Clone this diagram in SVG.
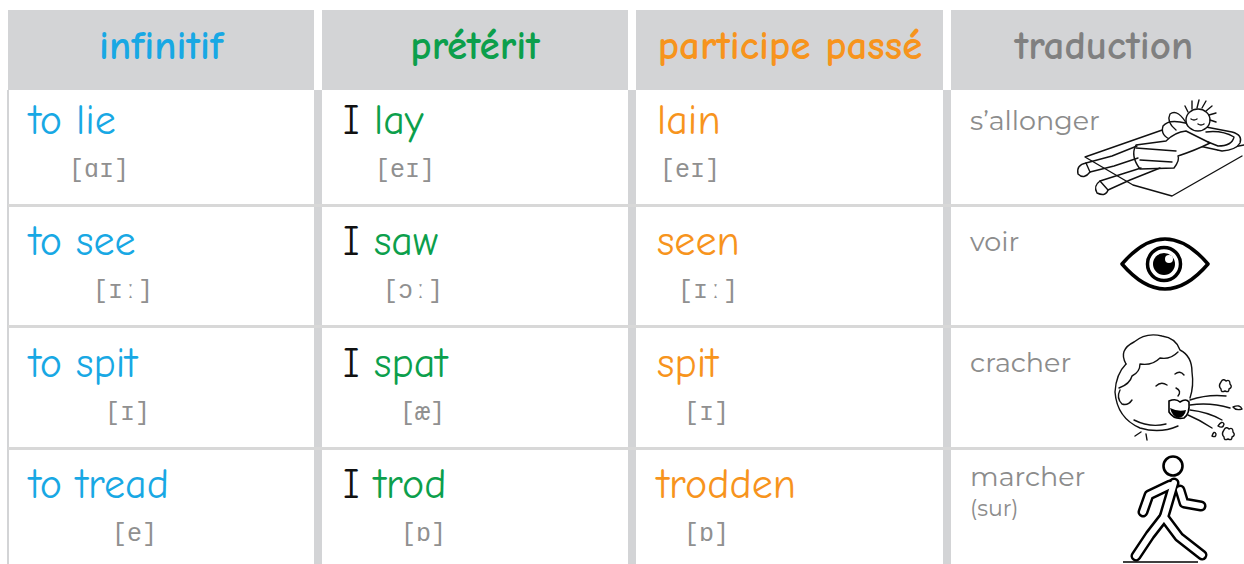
<svg xmlns="http://www.w3.org/2000/svg" width="1244" height="564" viewBox="0 0 1244 564">
<style>
.hd{fill:#d3d4d6}
.vl{fill:#d3d4d6}
.hl{fill:#d8d8d8}
.h{font-family:'Comic Sans MS','Comic Neue','Lato','DejaVu Sans',sans-serif;font-weight:bold;font-size:41px;text-anchor:middle}
.w{font-family:'Comic Sans MS','Comic Neue','Lato','DejaVu Sans',sans-serif;font-size:42px}
.ph{font-family:'Liberation Mono','Courier New',monospace;font-size:25px;fill:#909090}
.tr{font-family:'Montserrat','Open Sans','Noto Sans',sans-serif;font-size:27px;fill:#8c8c8c}
.b{fill:#18a8e4}.g{fill:#0c9f4c}.o{fill:#f7941d}.k{fill:#111}
.ln{fill:none;stroke:#111;stroke-width:1.4;stroke-linecap:round;stroke-linejoin:round}
.ol{fill:none;stroke:#000;stroke-width:11;stroke-linecap:round;stroke-linejoin:round}
.ow{fill:none;stroke:#fff;stroke-width:6;stroke-linecap:round;stroke-linejoin:round}
</style>
<rect width="1244" height="564" fill="#fff"/>
<g id="grid">
<rect class="hd" x="8" y="10" width="306" height="80"/>
<rect class="hd" x="322" y="10" width="306" height="80"/>
<rect class="hd" x="636" y="10" width="307" height="80"/>
<rect class="hd" x="951" y="10" width="293" height="80"/>
<rect class="vl" x="7" y="90" width="2" height="474"/>
<rect class="vl" x="314" y="90" width="8" height="474"/>
<rect class="vl" x="628" y="90" width="8" height="474"/>
<rect class="vl" x="943" y="90" width="8" height="474"/>
<rect class="hl" x="8" y="204" width="1236" height="3"/>
<rect class="hl" x="8" y="325" width="1236" height="3"/>
<rect class="hl" x="8" y="447" width="1236" height="3"/>
</g>
<g id="header">
<text class="h b" x="161" y="59">infinitif</text>
<text class="h g" x="475" y="59">prétérit</text>
<text class="h o" x="790" y="59">participe passé</text>
<text class="h" x="1104" y="59" fill="#808080">traduction</text>
</g>
<g id="row1">
<text class="w b" x="29" y="134">to lie</text>
<text class="ph" x="69" y="177">[ɑɪ]</text>
<text class="w" x="343" y="134"><tspan class="k">I</tspan><tspan class="g" x="374">lay</tspan></text>
<text class="ph" x="375" y="177">[eɪ]</text>
<text class="w o" x="657" y="134">lain</text>
<text class="ph" x="660" y="177">[eɪ]</text>
<text class="tr" x="970" y="130">s’allonger</text>
</g>
<g id="row2">
<text class="w b" x="29" y="255">to see</text>
<text class="ph" x="93" y="298">[ɪː]</text>
<text class="w" x="343" y="255"><tspan class="k">I</tspan><tspan class="g" x="374">saw</tspan></text>
<text class="ph" x="383" y="298">[ɔː]</text>
<text class="w o" x="657" y="255">seen</text>
<text class="ph" x="678" y="298">[ɪː]</text>
<text class="tr" x="970" y="251">voir</text>
</g>
<g id="row3">
<text class="w b" x="29" y="377">to spit</text>
<text class="ph" x="105" y="420">[ɪ]</text>
<text class="w" x="343" y="377"><tspan class="k">I</tspan><tspan class="g" x="374">spat</tspan></text>
<text class="ph" x="400" y="420">[æ]</text>
<text class="w o" x="657" y="377">spit</text>
<text class="ph" x="684" y="420">[ɪ]</text>
<text class="tr" x="970" y="372">cracher</text>
</g>
<g id="row4">
<text class="w b" x="29" y="498">to tread</text>
<text class="ph" x="112" y="541">[e]</text>
<text class="w" x="343" y="498"><tspan class="k">I</tspan><tspan class="g" x="374">trod</tspan></text>
<text class="ph" x="401" y="541">[ɒ]</text>
<text class="w o" x="657" y="498">trodden</text>
<text class="ph" x="684" y="541">[ɒ]</text>
<text class="tr" x="970" y="486">marcher</text>
<text class="tr" x="970" y="516" style="font-size:22px">(sur)</text>
</g>
<g id="icon-lying">
<path class="ln" d="M1133 185 L1085 157 L1168 128 M1133 185 L1172 196 L1242 156 M1218 150 L1244 145"/>
<path d="M1163 126 Q1168 120 1180 122 L1232 132 Q1243 135 1240 143 Q1236 150 1222 151 L1172 140 Q1160 136 1163 126 Z" fill="#fff" stroke="#111" stroke-width="1.4" stroke-linejoin="round"/>
<path d="M1186 131 Q1175 132 1166 141 L1136 145 Q1130 156 1140 169 L1174 168 Q1180 160 1178 156 Q1196 150 1210 143 Z" fill="#fff" stroke="#111" stroke-width="1.4" stroke-linejoin="round"/>
<path class="ln" d="M1136 148 L1176 151 M1140 160 L1172 162"/>
<path class="ln" d="M1188 126 Q1178 108 1170 114 Q1166 122 1176 130 M1206 132 Q1222 130 1234 137 Q1232 146 1218 146 L1208 142"/>
<ellipse cx="1198" cy="120" rx="12" ry="11" fill="#fff" stroke="#111" stroke-width="1.4"/>
<path class="ln" d="M1192 109 L1192 101 M1197 108 L1199 100 M1202 108 L1206 101 M1206 111 L1212 106 M1209 115 L1216 113 M1210 120 L1216 122 M1188 112 L1185 106"/>
<path class="ln" d="M1191 119 Q1194 121 1197 119 M1198 124 Q1201 126 1204 124"/>
<path class="ln" d="M1137 146 L1112 156 L1086 163 M1138 158 L1114 166 L1090 172 M1141 168 L1122 174 L1100 181 M1160 168 L1130 180 L1108 190"/>
<path d="M1086 163 Q1076 165 1078 174 Q1084 180 1090 172 Z M1100 181 Q1093 186 1097 193 Q1106 197 1108 190 Z" fill="#fff" stroke="#111" stroke-width="1.4" stroke-linejoin="round"/>
</g>
<g id="icon-eye">
<path d="M1122 264 Q1165 214 1208 264 Q1165 314 1122 264 Z" fill="none" stroke="#000" stroke-width="3.5" stroke-linejoin="round"/>
<circle cx="1164" cy="264" r="16.5" fill="none" stroke="#000" stroke-width="3.5"/>
<circle cx="1164" cy="264" r="11" fill="#000"/>
<circle cx="1169" cy="259" r="4" fill="#fff"/>
</g>
<g id="icon-spit">
<path class="ln" d="M1126 364 Q1116 374 1115 392 Q1117 418 1140 428 Q1160 434 1178 426"/>
<path class="ln" d="M1126 364 Q1118 350 1134 342 Q1146 332 1162 336 Q1176 338 1180 350 Q1192 356 1192 372 Q1194 386 1190 398"/>
<path class="ln" d="M1119 388 Q1130 384 1132 376 Q1140 372 1140 364 Q1152 366 1160 358 Q1170 360 1178 352"/>
<path class="ln" d="M1120 390 Q1116 398 1122 404 Q1128 406 1132 400"/>
<path class="ln" d="M1134 420 Q1150 428 1166 424"/>
<path class="ln" d="M1156 386 Q1161 381 1167 385 M1175 374 Q1180 370 1184 375 M1176 388 Q1182 391 1178 396"/>
<path d="M1169 401 Q1176 398 1180 402 Q1186 398 1189 402 Q1190 414 1184 418 Q1174 420 1169 412 Z" fill="#fff" stroke="#000" stroke-width="1.6"/>
<path d="M1170 408 Q1178 412 1186 410 Q1185 417 1178 418 Q1172 416 1170 408 Z" fill="#000"/>
<path class="ln" d="M1190 400 Q1208 394 1226 396 M1190 405 Q1210 402 1230 408 M1190 410 Q1208 412 1222 420 M1188 415 Q1200 420 1212 428"/>
<path class="ln" d="M1233 407 Q1240 404 1242 409 Q1236 411 1233 407 Z M1218 426 Q1222 420 1224 424 Q1223 429 1218 426 Z M1212 436 Q1214 430 1216 434 Q1216 438 1212 436 Z"/>
<path class="ln" d="M1221 382 q2 -4 5 -1 q4 -2 4 3 q3 3 -1 5 q0 4 -4 2 q-4 2 -4 -2 q-3 -3 0 -7 Z"/>
<path class="ln" d="M1224 430 q2 -4 5 -1 q4 -2 4 3 q3 3 -1 5 q0 4 -4 2 q-4 2 -4 -2 q-3 -3 0 -7 Z"/>
<path class="ln" d="M1141 432 L1135 436 M1146 434 L1147 440"/>
</g>
<g id="icon-walk">
<circle cx="1173" cy="466" r="9.5" fill="#fff" stroke="#000" stroke-width="2.6"/>
<path class="ol" d="M1170 485 L1149 495 L1143 512"/>
<path class="ol" d="M1180 490 L1184 503 L1201 506"/>
<path class="ol" d="M1174 483 L1164 517 L1150 535 L1136 556"/>
<path class="ol" d="M1164 517 L1179 537 L1202 555"/>
<path class="ow" d="M1170 485 L1149 495 L1143 512"/>
<path class="ow" d="M1180 490 L1184 503 L1201 506"/>
<path class="ow" d="M1174 483 L1164 517 L1150 535 L1136 556"/>
<path class="ow" d="M1164 517 L1179 537 L1202 555"/>
<path d="M1123 562 L1198 562" stroke="#000" stroke-width="1.5"/>
</g>
</svg>
